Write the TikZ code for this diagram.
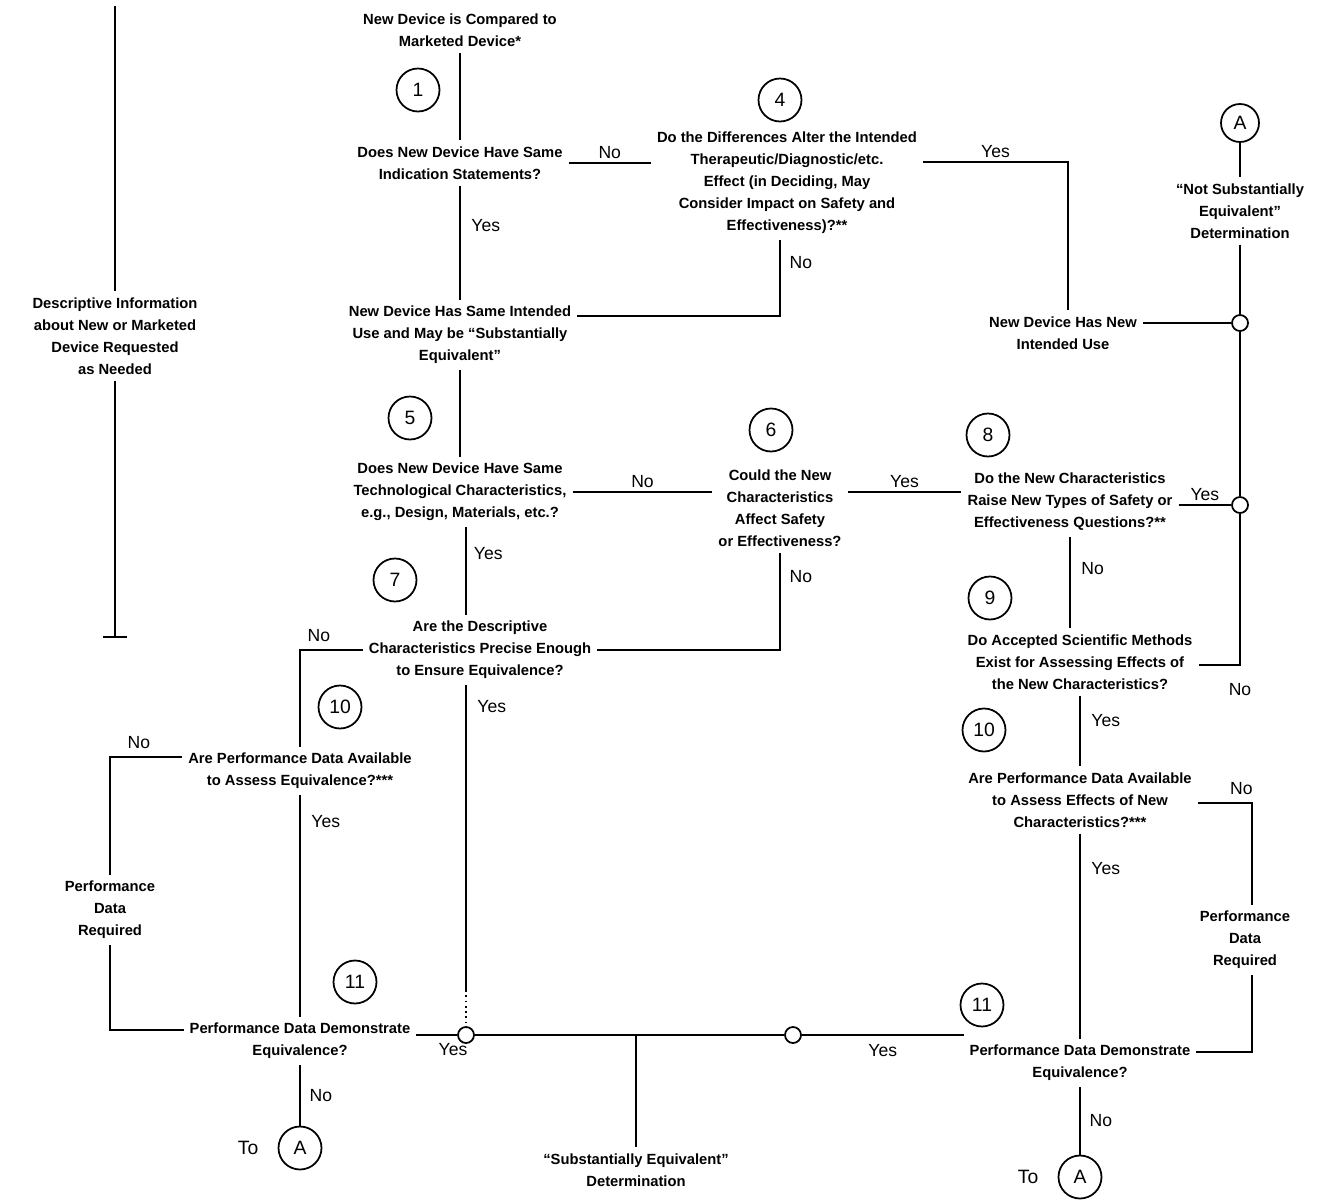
\documentclass[tikz,border=0pt]{standalone}
\usepackage{fontspec}
\setmainfont{Liberation Sans}
\usetikzlibrary{positioning}

\tikzset{
  qtext/.style={align=center, inner sep=3pt, font=\bfseries\fontsize{8.4}{12.5}\selectfont},
  numcirc/.style={circle, draw, line width=1pt, minimum size=0.86cm, inner sep=0pt,
                  font=\fontsize{11}{13}\selectfont},
  lettercirc/.style={numcirc, minimum size=0.76cm},
  junc/.style={circle, draw, line width=1pt, minimum size=0.32cm, inner sep=0pt, fill=white},
  lbl/.style={inner sep=2pt, font=\fontsize{10}{12}\selectfont},
}

\begin{document}
\begin{tikzpicture}[x=0.02cm, y=-0.02cm, line width=1pt]
\useasboundingbox (0,0) rectangle (1326,1204);

% ---- top part: intended use
\node[qtext] (top) at (460,30) {New Device is Compared to\\Marketed Device*};
\node[numcirc] (c1) at (418,90) {1};
\node[qtext] (q2) at (460,163) {Does New Device Have Same\\Indication Statements?};
\node[numcirc] (c4) at (780,100) {4};
\node[qtext] (q4) at (787,183) {Do the Differences Alter the Intended\\Therapeutic/Diagnostic/etc.\\Effect (in Deciding, May\\Consider Impact on Safety and\\Effectiveness)?**};
\node[qtext] (q3) at (460,335) {New Device Has Same Intended\\Use and May be ``Substantially\\Equivalent''};
\node[qtext] (newuse) at (1063,333) {New Device Has New\\Intended Use};
\node[lettercirc] (cA) at (1240,123) {A};
\node[qtext] (nse) at (1240,211) {``Not Substantially\\Equivalent''\\Determination};
\node[junc] (j1) at (1240,323) {};
\node[qtext] (desc) at (115,336) {Descriptive Information\\about New or Marketed\\Device Requested\\as Needed};

% ---- middle part: technology
\node[numcirc] (c5) at (410,418) {5};
\node[qtext] (q5) at (460,492) {Does New Device Have Same\\Technological Characteristics,\\e.g., Design, Materials, etc.?};
\node[numcirc] (c6) at (771,430) {6};
\node[qtext] (q6) at (780,508) {Could the New\\Characteristics\\Affect Safety\\or Effectiveness?};
\node[numcirc] (c8) at (988,435) {8};
\node[qtext] (q8) at (1070,502) {Do the New Characteristics\\Raise New Types of Safety or\\Effectiveness Questions?**};
\node[junc] (j2) at (1240,505) {};
\node[numcirc] (c7) at (395,580) {7};
\node[qtext] (q7) at (480,650) {Are the Descriptive\\Characteristics Precise Enough\\to Ensure Equivalence?};
\node[numcirc] (c9) at (990,598) {9};
\node[qtext] (q9) at (1080,662) {Do Accepted Scientific Methods\\Exist for Assessing Effects of\\the New Characteristics?};

% ---- lower part: performance data
\node[numcirc] (c10l) at (340,707) {10};
\node[qtext] (q10l) at (300,771) {Are Performance Data Available\\to Assess Equivalence?***};
\node[numcirc] (c10r) at (984,730) {10};
\node[qtext] (q10r) at (1080,800) {Are Performance Data Available\\to Assess Effects of New\\Characteristics?***};
\node[qtext] (pdrl) at (110,910) {Performance\\Data\\Required};
\node[qtext] (pdrr) at (1245,940) {Performance\\Data\\Required};
\node[numcirc] (c11l) at (355,982) {11};
\node[qtext] (q11l) at (300,1041) {Performance Data Demonstrate\\Equivalence?};
\node[junc] (jl) at (466,1035) {};
\coordinate (jm) at (636,1035);
\node[junc] (jr) at (793,1035) {};
\node[numcirc] (c11r) at (982,1005) {11};
\node[qtext] (q11r) at (1080,1063) {Performance Data Demonstrate\\Equivalence?};
\node[qtext] (se) at (636,1170) {``Substantially Equivalent''\\Determination};
\node[numcirc] (cal) at (300,1148) {A};
\node[lbl, left=0.3cm of cal, font=\fontsize{11}{13}\selectfont] (tol) {To};
\node[numcirc] (car) at (1080,1177) {A};
\node[lbl, left=0.3cm of car, font=\fontsize{11}{13}\selectfont] (tor) {To};

% corners
\coordinate (k4) at (1068,162);
\coordinate (k5) at (780,316);
\coordinate (k6) at (780,650);
\coordinate (k7) at (300,650);
\coordinate (k7y) at (466,990);
\coordinate (k9) at (1240,665);
\coordinate (k10) at (110,757);
\coordinate (k11) at (110,1030);
\coordinate (k12) at (1252,803);
\coordinate (k13) at (1252,1052);
\coordinate (dtop) at (115,6);
\coordinate (dbot) at (115,637);

% ---- connectors
\draw (top) -- (q2);
\draw (q2.east) -- node[lbl, above]{No} (q2.east -| q4.west);
\draw (q2) -- node[lbl, pos=.35, right=4pt]{Yes} (q3);
\draw (q4.east |- k4) -- node[lbl, above]{Yes} (k4) -- (newuse.north -| k4);
\draw (q4.south -| k5) -- node[lbl, pos=.3, right=3pt]{No} (k5) -- (q3.east |- k5);
\draw (newuse.east |- j1) -- (j1);
\draw (cA) -- (nse);
\draw (nse) -- (j1);
\draw (j1) -- (j2);
\draw (q8.east |- j2) -- node[lbl, above]{Yes} (j2);
\draw (j2) -- (k9) node[lbl, below=8pt]{No} -- (q9.east |- k9);

\draw (q3) -- (q5);
\draw (q5.east) -- node[lbl, above]{No} (q6.west |- q5.east);
\draw (q6.east |- q5.east) -- node[lbl, above]{Yes} (q8.west |- q5.east);
\draw (q6) -- node[lbl, pos=.25, right=3pt]{No} (k6) -- (q7.east |- k6);
\draw (q5.south -| jl) -- node[lbl, pos=.3, right=2pt]{Yes} (q7.north -| jl);
\draw (q7.south -| jl) -- node[lbl, pos=.07, right=4pt]{Yes} (k7y);
\draw[dotted] (k7y) -- (jl);
\draw (q7.west |- k7) -- node[lbl, pos=.7, above=2pt]{No} (k7) -- (q10l.north -| k7);
\draw (q8.south) -- node[lbl, pos=.35, right=4pt]{No} (q8.south |- q9.north);
\draw (q9) -- node[lbl, pos=.35, right=4pt]{Yes} (q10r);

\draw (q10l.west |- k10) -- node[lbl, pos=.6, above=2pt]{No} (k10) -- (pdrl);
\draw (pdrl) -- (k11) -- (q11l.west |- k11);
\draw (q10l) -- node[lbl, pos=.12, right=4pt]{Yes} (q11l);
\draw (q11l.east |- jl) -- node[lbl, pos=.9, below=2pt]{Yes} (jl);
\draw (q11l) -- node[lbl, right=3pt]{No} (cal);
\draw (jl) -- (jm) -- (jr) -- node[lbl, below=3pt]{Yes} (q11r.west |- jr);
\draw (jm) -- (se);
\draw (q10r.east |- k12) -- (k12) node[lbl, above=2pt, xshift=-6pt]{No} -- (pdrr.north -| k12);
\draw (pdrr.south -| k13) -- (k13) -- (q11r.east |- k13);
\draw (q10r) -- node[lbl, pos=.17, right=4pt]{Yes} (q11r);
\draw (q11r) -- node[lbl, right=3pt]{No} (car);

% descriptive information bracket
\draw (dtop) -- (desc);
\draw (desc) -- (dbot);
\draw (dbot) ++(-12,0) -- ++(24,0);
\end{tikzpicture}
\end{document}
